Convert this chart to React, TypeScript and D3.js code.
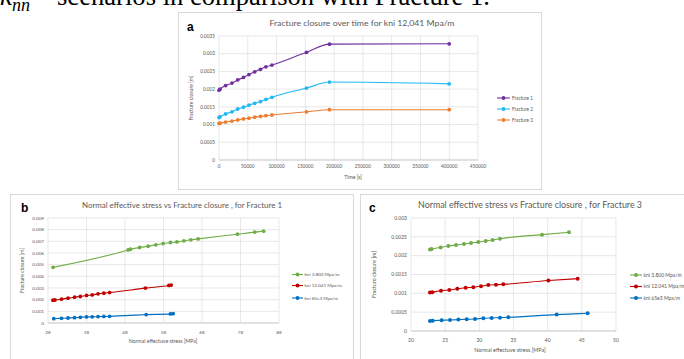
import React from "react";
import * as d3 from "d3";

// ---------- Chart a: Fracture closure over time ----------
const timeS = [0, 1800, 11500, 22500, 32500, 42500, 52000, 62000, 72000, 81500, 92000, 152000, 192000, 400000];
const fracture1 = [0.00197, 0.002, 0.0021, 0.00217, 0.00226, 0.00233, 0.00241, 0.00249, 0.00256, 0.00263, 0.00268, 0.00304, 0.00327, 0.00328];
const fracture2 = [0.0012, 0.00122, 0.0013, 0.00136, 0.00144, 0.00149, 0.00155, 0.0016, 0.00165, 0.00171, 0.00177, 0.00203, 0.0022, 0.00215];
const fracture3 = [0.00103, 0.00104, 0.00107, 0.0011, 0.00113, 0.00116, 0.00118, 0.00121, 0.00123, 0.00125, 0.00127, 0.00136, 0.00142, 0.00142];
const aXTicks = [0, 50000, 100000, 150000, 200000, 250000, 300000, 350000, 400000, 450000];
const aYTicks = [0, 0.0005, 0.001, 0.0015, 0.002, 0.0025, 0.003, 0.0035];
const aYLabels = ["0", "0.0005", "0.001", "0.0015", "0.002", "0.0025", "0.003", "0.0035"];
const aNames = ["Fracture 1", "Fracture 2", "Fracture 3"];

// ---------- Chart b: Fracture 1 ----------
const bGreenX = [29.3, 48.8, 49.4, 51.8, 54.0, 56.0, 57.9, 59.8, 61.5, 63.3, 65.1, 67.0, 77.2, 81.7, 84.0];
const bGreenY = [0.00477, 0.00626, 0.00632, 0.00647, 0.00658, 0.0067, 0.00681, 0.0069, 0.00695, 0.00704, 0.00713, 0.00721, 0.00761, 0.00779, 0.00787];
const bRedX = [29.3, 29.8, 31.5, 33.2, 34.9, 36.4, 38.0, 39.5, 41.0, 42.5, 44.0, 53.3, 59.4, 60.0];
const bRedY = [0.00195, 0.00197, 0.00204, 0.00213, 0.00221, 0.00227, 0.00236, 0.00241, 0.0025, 0.00256, 0.00261, 0.00299, 0.00322, 0.00325];
const bBlueX = [29.5, 31.5, 33.2, 34.9, 36.4, 38.0, 39.5, 41.0, 42.5, 44.0, 53.5, 59.8, 60.5];
const bBlueY = [0.00037, 0.0004, 0.00043, 0.00046, 0.00049, 0.00052, 0.00053, 0.00055, 0.00056, 0.00057, 0.00072, 0.00078, 0.0008];
const bXTicks = [28, 38, 48, 58, 68, 78, 88];
const bYTicks = [0, 0.001, 0.002, 0.003, 0.004, 0.005, 0.006, 0.007, 0.008, 0.009];
const bYLabels = ["0", "0.001", "0.002", "0.003", "0.004", "0.005", "0.006", "0.007", "0.008", "0.009"];

// ---------- Chart c: Fracture 3 ----------
const cGreenX = [22.78, 23.02, 24.34, 25.46, 26.59, 27.76, 28.78, 29.85, 30.93, 31.95, 33.02, 39.17, 43.12];
const cGreenY = [0.002167, 0.002176, 0.00222, 0.002256, 0.002282, 0.002309, 0.002336, 0.002362, 0.002389, 0.002416, 0.002451, 0.002558, 0.00262];
const cRedX = [22.78, 23.12, 24.39, 25.61, 26.78, 28.0, 29.12, 30.24, 31.32, 32.44, 33.51, 40.1, 44.39];
const cRedY = [0.00102, 0.00103, 0.00107, 0.00109, 0.00112, 0.00115, 0.00116, 0.00119, 0.00122, 0.00123, 0.00124, 0.00134, 0.00139];
const cBlueX = [22.78, 23.17, 24.49, 25.71, 26.93, 28.15, 29.37, 30.59, 31.8, 33.02, 34.24, 41.32, 45.85];
const cBlueY = [0.000266, 0.000275, 0.000284, 0.000293, 0.000302, 0.000311, 0.00032, 0.000337, 0.000346, 0.000355, 0.000364, 0.000435, 0.000471];
const cXTicks = [20, 25, 30, 35, 40, 45, 50];
const cYTicks = [0, 0.0005, 0.001, 0.0015, 0.002, 0.0025, 0.003];
const cYLabels = ["0", "0.0005", "0.001", "0.0015", "0.002", "0.0025", "0.003"];

const kniNames = ["kni 3.800 Mpa/m", "kni 12.041 Mpa/m", "kni 65e3 Mpa/m"];

const FONT = "Lato, 'Open Sans', sans-serif";
const GRID = "#d9d9d9";
const TICK = "#595959";

type Series = { name: string; color: string; xs: number[]; ys: number[] };

type ChartProps = {
  box: { x: number; y: number; w: number; h: number };
  plot: { l: number; r: number; t: number; b: number };
  xDomain: [number, number];
  yDomain: [number, number];
  xTicks: number[];
  yTicks: number[];
  yLabels: string[];
  series: Series[];
  title: string;
  titleX: number;
  titleY: number;
  titleLen: number;
  titleSize: number;
  letter: string;
  letterX: number;
  letterY: number;
  xTitle: string;
  xTitleX: number;
  xTitleY: number;
  yTitleX: number;
  tickSize: number;
  axisTitleSize: number;
  xLabelY: number;
  legend: { lineX0: number; lineX1: number; textX: number; ys: number[] };
  r: number;
};

function Chart(p: ChartProps) {
  const x = d3.scaleLinear().domain(p.xDomain).range([p.plot.l, p.plot.r]);
  const y = d3.scaleLinear().domain(p.yDomain).range([p.plot.b, p.plot.t]);
  const line = d3
    .line<[number, number]>()
    .x((d) => x(d[0]))
    .y((d) => y(d[1]))
    .curve(d3.curveMonotoneX);
  const yMid = (p.plot.t + p.plot.b) / 2;
  return (
    <g>
      <rect x={p.box.x + 0.5} y={p.box.y + 0.5} width={p.box.w} height={p.box.h} fill="#fff" stroke={GRID} strokeWidth={1} />
      {p.xTicks.map((t) => (
        <line key={"vx" + t} x1={x(t)} x2={x(t)} y1={p.plot.t} y2={p.plot.b} stroke={GRID} strokeWidth={0.6} />
      ))}
      {p.yTicks.map((t) => (
        <line key={"hy" + t} x1={p.plot.l} x2={p.plot.r} y1={y(t)} y2={y(t)} stroke={GRID} strokeWidth={0.6} />
      ))}
      <line x1={p.plot.l} x2={p.plot.r} y1={p.plot.b} y2={p.plot.b} stroke="#bfbfbf" strokeWidth={0.7} />
      {p.yTicks.map((t, i) => (
        <text key={"yl" + t} x={p.plot.l - 4} y={y(t)} dy="0.35em" textAnchor="end" fontSize={p.tickSize} fill={TICK} fontFamily={FONT}>
          {p.yLabels[i]}
        </text>
      ))}
      {p.xTicks.map((t) => (
        <text key={"xl" + t} x={x(t)} y={p.xLabelY} dy="0.35em" textAnchor="middle" fontSize={p.tickSize} fill={TICK} fontFamily={FONT}>
          {String(t)}
        </text>
      ))}
      {p.series.map((s) => {
        const pts = s.xs.map((v, i) => [v, s.ys[i]] as [number, number]);
        return (
          <g key={s.name}>
            <path d={line(pts) || ""} fill="none" stroke={s.color} strokeWidth={1.1} />
            {pts.map((d, i) => (
              <circle key={i} cx={x(d[0])} cy={y(d[1])} r={p.r} fill={s.color} />
            ))}
          </g>
        );
      })}
      <text x={p.titleX} y={p.titleY} dy="0.35em" textAnchor="middle" fontSize={p.titleSize} fill="#595959" fontFamily={FONT} textLength={p.titleLen} lengthAdjust="spacingAndGlyphs">
        {p.title}
      </text>
      <text x={p.letterX} y={p.letterY} fontSize={12} fontWeight="bold" fill="#000" fontFamily="'Liberation Sans', Arial, sans-serif">
        {p.letter}
      </text>
      <text x={p.xTitleX} y={p.xTitleY} dy="0.35em" textAnchor="middle" fontSize={p.axisTitleSize} fill="#595959" fontFamily={FONT}>
        {p.xTitle}
      </text>
      <text transform={`translate(${p.yTitleX},${yMid}) rotate(-90)`} textAnchor="middle" dy="0.35em" fontSize={p.axisTitleSize} fill="#595959" fontFamily={FONT}>
        Fracture closure [m]
      </text>
      {p.series.map((s, i) => (
        <g key={"lg" + s.name}>
          <line x1={p.legend.lineX0} x2={p.legend.lineX1} y1={p.legend.ys[i]} y2={p.legend.ys[i]} stroke={s.color} strokeWidth={1.1} />
          <circle cx={(p.legend.lineX0 + p.legend.lineX1) / 2} cy={p.legend.ys[i]} r={p.r} fill={s.color} />
          <text x={p.legend.textX} y={p.legend.ys[i]} dy="0.35em" fontSize={p.tickSize} fill="#595959" fontFamily={FONT}>
            {s.name}
          </text>
        </g>
      ))}
    </g>
  );
}

export default function App() {
  const aSeries: Series[] = [
    { name: aNames[0], color: "#7030A0", xs: timeS, ys: fracture1 },
    { name: aNames[1], color: "#21B9F2", xs: timeS, ys: fracture2 },
    { name: aNames[2], color: "#ED7D31", xs: timeS, ys: fracture3 },
  ];
  const bSeries: Series[] = [
    { name: kniNames[0], color: "#70AD47", xs: bGreenX, ys: bGreenY },
    { name: kniNames[1], color: "#C00000", xs: bRedX, ys: bRedY },
    { name: kniNames[2], color: "#0070C0", xs: bBlueX, ys: bBlueY },
  ];
  const cSeries: Series[] = [
    { name: kniNames[0], color: "#70AD47", xs: cGreenX, ys: cGreenY },
    { name: kniNames[1], color: "#C00000", xs: cRedX, ys: cRedY },
    { name: kniNames[2], color: "#0070C0", xs: cBlueX, ys: cBlueY },
  ];
  return (
    <svg width={684} height={359} style={{ position: "absolute", left: 0, top: 0, background: "#fff" }}>
      <rect x={0} y={0} width={684} height={359} fill="#fff" />
      <text x={0} y={5} fontSize={27} fontFamily="'Liberation Serif', 'Times New Roman', serif" fill="#000">
        <tspan fontStyle="italic">k</tspan>
        <tspan fontStyle="italic" fontSize={18} dy={6}>nn</tspan>
      </text>
      <text x={57} y={5} fontSize={27} fontFamily="'Liberation Serif', 'Times New Roman', serif" fill="#000" textLength={433} lengthAdjust="spacingAndGlyphs">
        scenarios in comparison with Fracture 1.
      </text>
      <Chart
        box={{ x: 178, y: 12, w: 363, h: 177 }}
        plot={{ l: 219, r: 478, t: 36, b: 160 }}
        xDomain={[0, 450000]}
        yDomain={[0, 0.0035]}
        xTicks={aXTicks}
        yTicks={aYTicks}
        yLabels={aYLabels}
        series={aSeries}
        title="Fracture closure over time for kni 12,041 Mpa/m"
        titleX={362}
        titleY={23}
        titleLen={185}
        titleSize={8}
        letter="a"
        letterX={187}
        letterY={31}
        xTitle="Time [s]"
        xTitleX={353}
        xTitleY={177}
        yTitleX={191}
        tickSize={4.7}
        axisTitleSize={5.2}
        xLabelY={166}
        legend={{ lineX0: 497, lineX1: 510, textX: 512, ys: [98, 109, 120] }}
        r={1.9}
      />
      <Chart
        box={{ x: 10, y: 194, w: 343, h: 200 }}
        plot={{ l: 48, r: 279, t: 218, b: 323 }}
        xDomain={[28, 88]}
        yDomain={[0, 0.009]}
        xTicks={bXTicks}
        yTicks={bYTicks}
        yLabels={bYLabels}
        series={bSeries}
        title="Normal effective stress vs Fracture closure , for Fracture 1"
        titleX={182}
        titleY={205}
        titleLen={200}
        titleSize={8}
        letter="b"
        letterX={21}
        letterY={212}
        xTitle="Normal effectuve stress  [MPa]"
        xTitleX={163}
        xTitleY={341}
        yTitleX={22}
        tickSize={4.6}
        axisTitleSize={5.2}
        xLabelY={332}
        legend={{ lineX0: 292, lineX1: 303, textX: 304.5, ys: [274.5, 285.5, 298] }}
        r={1.9}
      />
      <Chart
        box={{ x: 360, y: 194, w: 340, h: 200 }}
        plot={{ l: 411, r: 616, t: 218, b: 331 }}
        xDomain={[20, 50]}
        yDomain={[0, 0.003]}
        xTicks={cXTicks}
        yTicks={cYTicks}
        yLabels={cYLabels}
        series={cSeries}
        title="Normal effective stress vs Fracture closure , for Fracture 3"
        titleX={530}
        titleY={205}
        titleLen={224}
        titleSize={8.8}
        letter="c"
        letterX={369}
        letterY={212}
        xTitle="Normal effectuve stress  [MPa]"
        xTitleX={510}
        xTitleY={350}
        yTitleX={374}
        tickSize={5}
        axisTitleSize={5.4}
        xLabelY={340}
        legend={{ lineX0: 630, lineX1: 642, textX: 643.5, ys: [275, 286.5, 298] }}
        r={2}
      />
    </svg>
  );
}
